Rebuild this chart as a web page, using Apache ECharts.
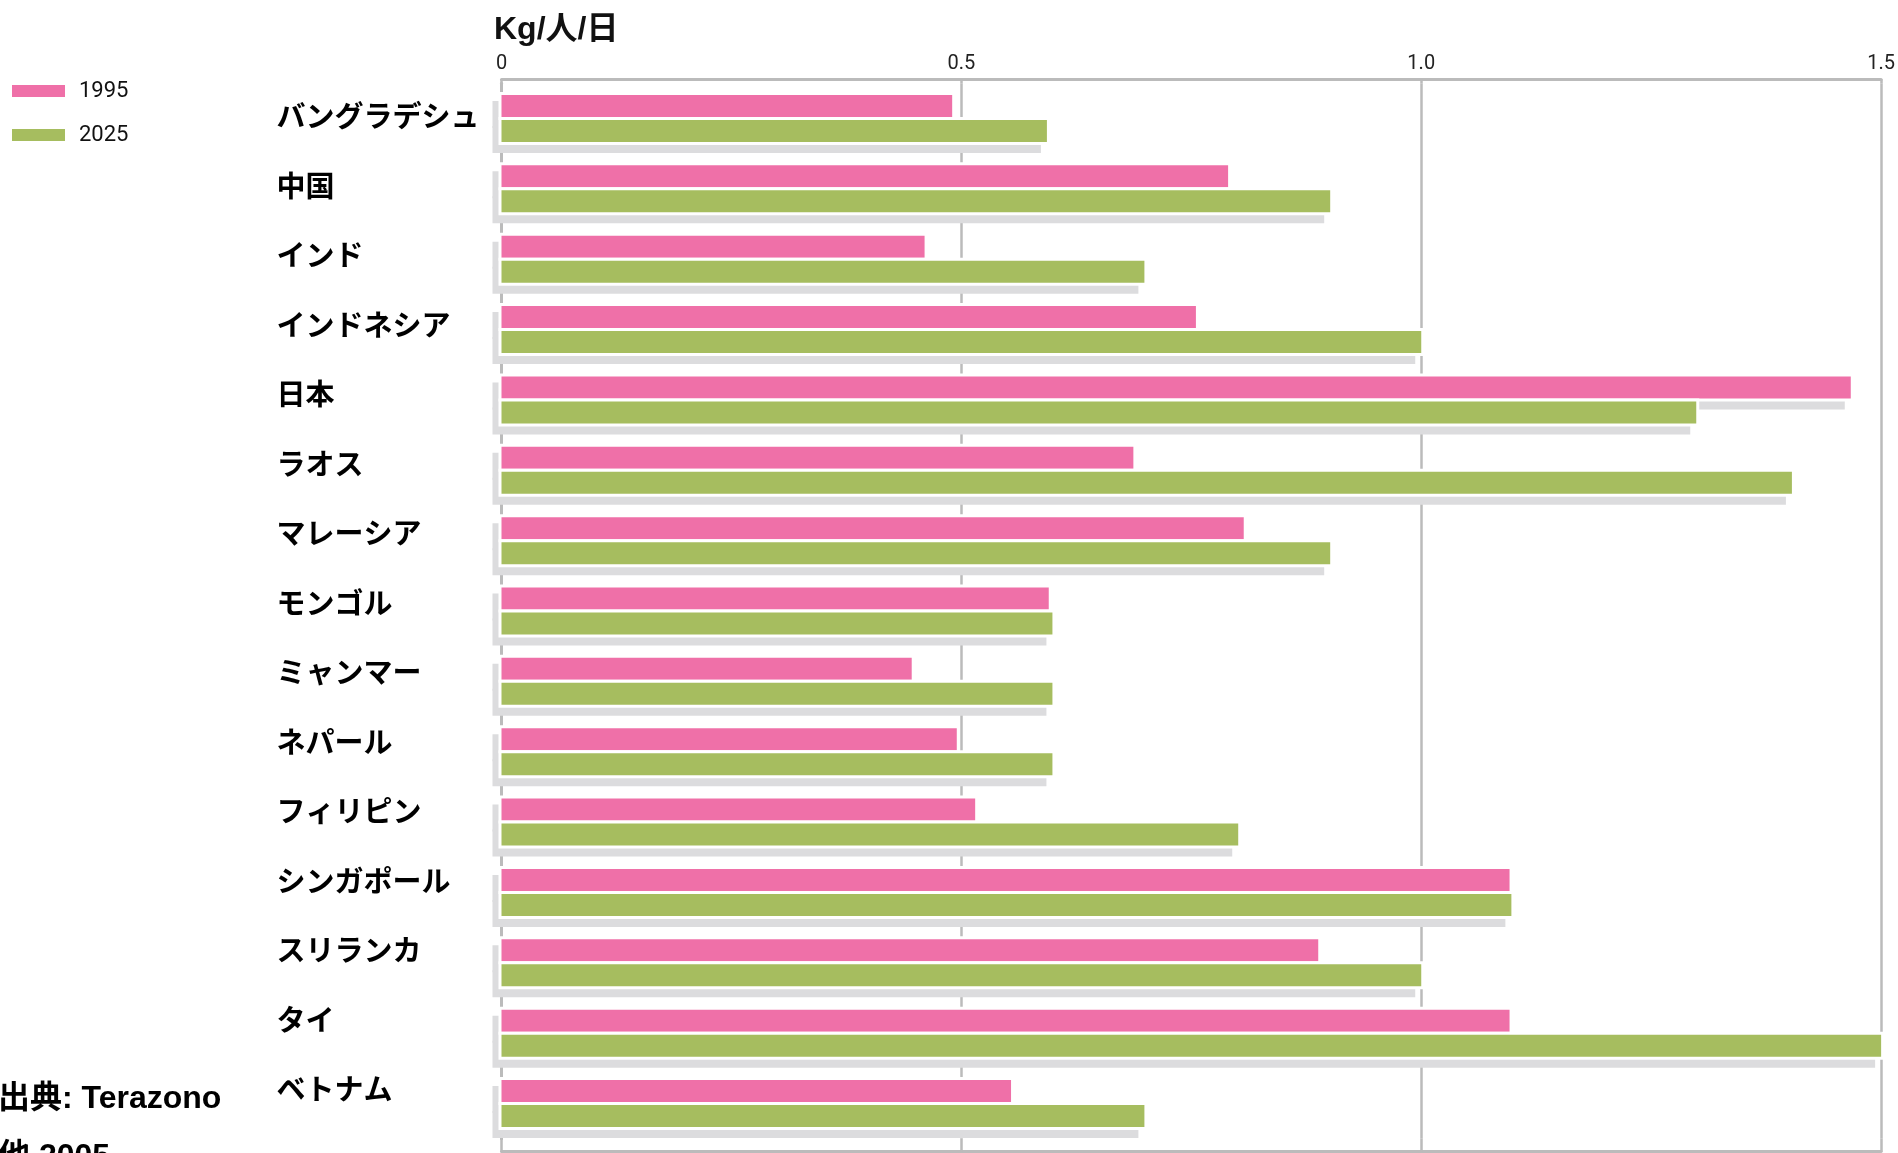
<!DOCTYPE html>
<html>
<head>
<meta charset="utf-8">
<script src="https://cdn.jsdelivr.net/npm/echarts@6/dist/echarts.min.js"></script>
<style>
  html, body { margin: 0; padding: 0; background: #fff; }
  #main { width: 1898px; height: 1153px; }
</style>
</head>
<body>
<div id="main"></div>
<script>
var categories = ['バングラデシュ', '中国', 'インド', 'インドネシア', '日本', 'ラオス', 'マレーシア',
  'モンゴル', 'ミャンマー', 'ネパール', 'フィリピン', 'シンガポール', 'スリランカ', 'タイ', 'ベトナム'];
var values1995 = [0.49, 0.79, 0.46, 0.755, 1.467, 0.687, 0.807, 0.595, 0.446, 0.495, 0.515, 1.096, 0.888, 1.096, 0.554];
var values2025 = [0.593, 0.901, 0.699, 1.0, 1.299, 1.403, 0.901, 0.599, 0.599, 0.599, 0.801, 1.098, 1.0, 1.5, 0.699];
var xTickLabels = ['0', '0.5', '1.0', '1.5'];

var narrowFont = "'Liberation Sans Narrow', 'Roboto', sans-serif";
var boldFont = "'Liberation Sans', 'Noto Sans CJK JP', sans-serif";
var gridGray = '#bbbbbb';
var shadowGray = '#dcdcde';
var barH = 22;

var dom = document.getElementById('main');
var myChart = echarts.init(dom, null, { renderer: 'canvas' });

// bar = grey drop shadow, white outline, coloured fill
function makeRender(topOffset) {
  return function (params, api) {
    var cat = api.value(1);
    var p0 = api.coord([0, cat]);
    var p1 = api.coord([api.value(0), cat]);
    var y = p0[1] + topOffset;
    var w = p1[0] - p0[0];
    return {
      type: 'group',
      children: [
        { type: 'rect', shape: { x: p0[0] - 9, y: y + 6, width: w + 3, height: barH + 5 }, style: { fill: shadowGray } },
        { type: 'rect', shape: { x: p0[0] - 3, y: y - 3, width: w + 6, height: barH + 6 }, style: { fill: '#ffffff' } },
        { type: 'rect', shape: { x: p0[0], y: y, width: w, height: barH }, style: { fill: api.visual('color') } }
      ]
    };
  };
}

// per-row label lift (labels in the source sit a little higher further down)
var labelRich = {};
categories.forEach(function (c, i) {
  labelRich['r' + i] = {
    fontFamily: "'Noto Sans CJK JP', sans-serif",
    fontWeight: 'bold',
    fontSize: 29,
    color: '#000',
    padding: [0, 0, Math.round(4 + i * 1.77), 0]
  };
});

var option = {
  animation: false,
  title: {
    text: 'Kg/人/日',
    left: 489,
    top: 9,
    textStyle: { fontSize: 32, fontWeight: 'bold', color: '#111', fontFamily: boldFont }
  },
  legend: {
    data: ['1995', '2025'],
    orient: 'vertical',
    left: 7,
    top: 75,
    icon: 'rect',
    itemWidth: 53,
    itemHeight: 12,
    itemGap: 22,
    textStyle: { fontFamily: narrowFont, fontSize: 22, color: '#111', padding: [0, 0, 0, 9] }
  },
  graphic: [
    {
      type: 'text',
      left: -2,
      top: 1070,
      style: {
        text: '出典: Terazono\n他 2005',
        fill: '#000',
        font: 'bold 32px ' + boldFont,
        lineHeight: 58
      }
    }
  ],
  grid: {
    left: 501.5,
    right: 16.5,
    top: 83.3,
    bottom: 14.3,
    containLabel: false
  },
  xAxis: [
    {
      type: 'value',
      position: 'top',
      min: 0,
      max: 1.5,
      interval: 0.5,
      offset: 4,
      axisLine: { show: true, lineStyle: { color: gridGray, width: 3 } },
      axisTick: { show: true, inside: true, length: 4, lineStyle: { color: gridGray, width: 2.5 } },
      axisLabel: {
        margin: 5,
        fontFamily: narrowFont,
        fontSize: 20,
        color: '#222',
        formatter: function (v) { return xTickLabels[Math.round(v / 0.5)]; }
      },
      splitLine: { show: true, lineStyle: { color: gridGray, width: 2.5 } }
    },
    {
      type: 'value',
      position: 'bottom',
      min: 0,
      max: 1.5,
      interval: 0.5,
      offset: 13,
      axisLine: { show: true, lineStyle: { color: gridGray, width: 3 } },
      axisTick: { show: true, inside: true, length: 13, lineStyle: { color: gridGray, width: 2.5 } },
      axisLabel: { show: false },
      splitLine: { show: false }
    }
  ],
  yAxis: {
    type: 'category',
    data: categories,
    inverse: true,
    axisLine: { show: true, lineStyle: { color: gridGray, width: 3 } },
    axisTick: { show: false },
    axisLabel: {
      align: 'left',
      margin: 225,
      formatter: function (value, index) { return '{r' + index + '|' + value + '}'; },
      rich: labelRich
    }
  },
  series: [
    {
      name: '1995',
      type: 'custom',
      xAxisIndex: 0,
      itemStyle: { color: '#ef70a8' },
      encode: { x: 0, y: 1 },
      renderItem: makeRender(-23.5),
      data: values1995.map(function (v, i) { return [v, i]; })
    },
    {
      name: '2025',
      type: 'custom',
      xAxisIndex: 0,
      itemStyle: { color: '#a6bd5f' },
      encode: { x: 0, y: 1 },
      renderItem: makeRender(1.5),
      data: values2025.map(function (v, i) { return [v, i]; })
    }
  ]
};

if (option && typeof option === 'object') {
  myChart.setOption(option);
}

window.addEventListener('resize', myChart.resize);
</script>
</body>
</html>
